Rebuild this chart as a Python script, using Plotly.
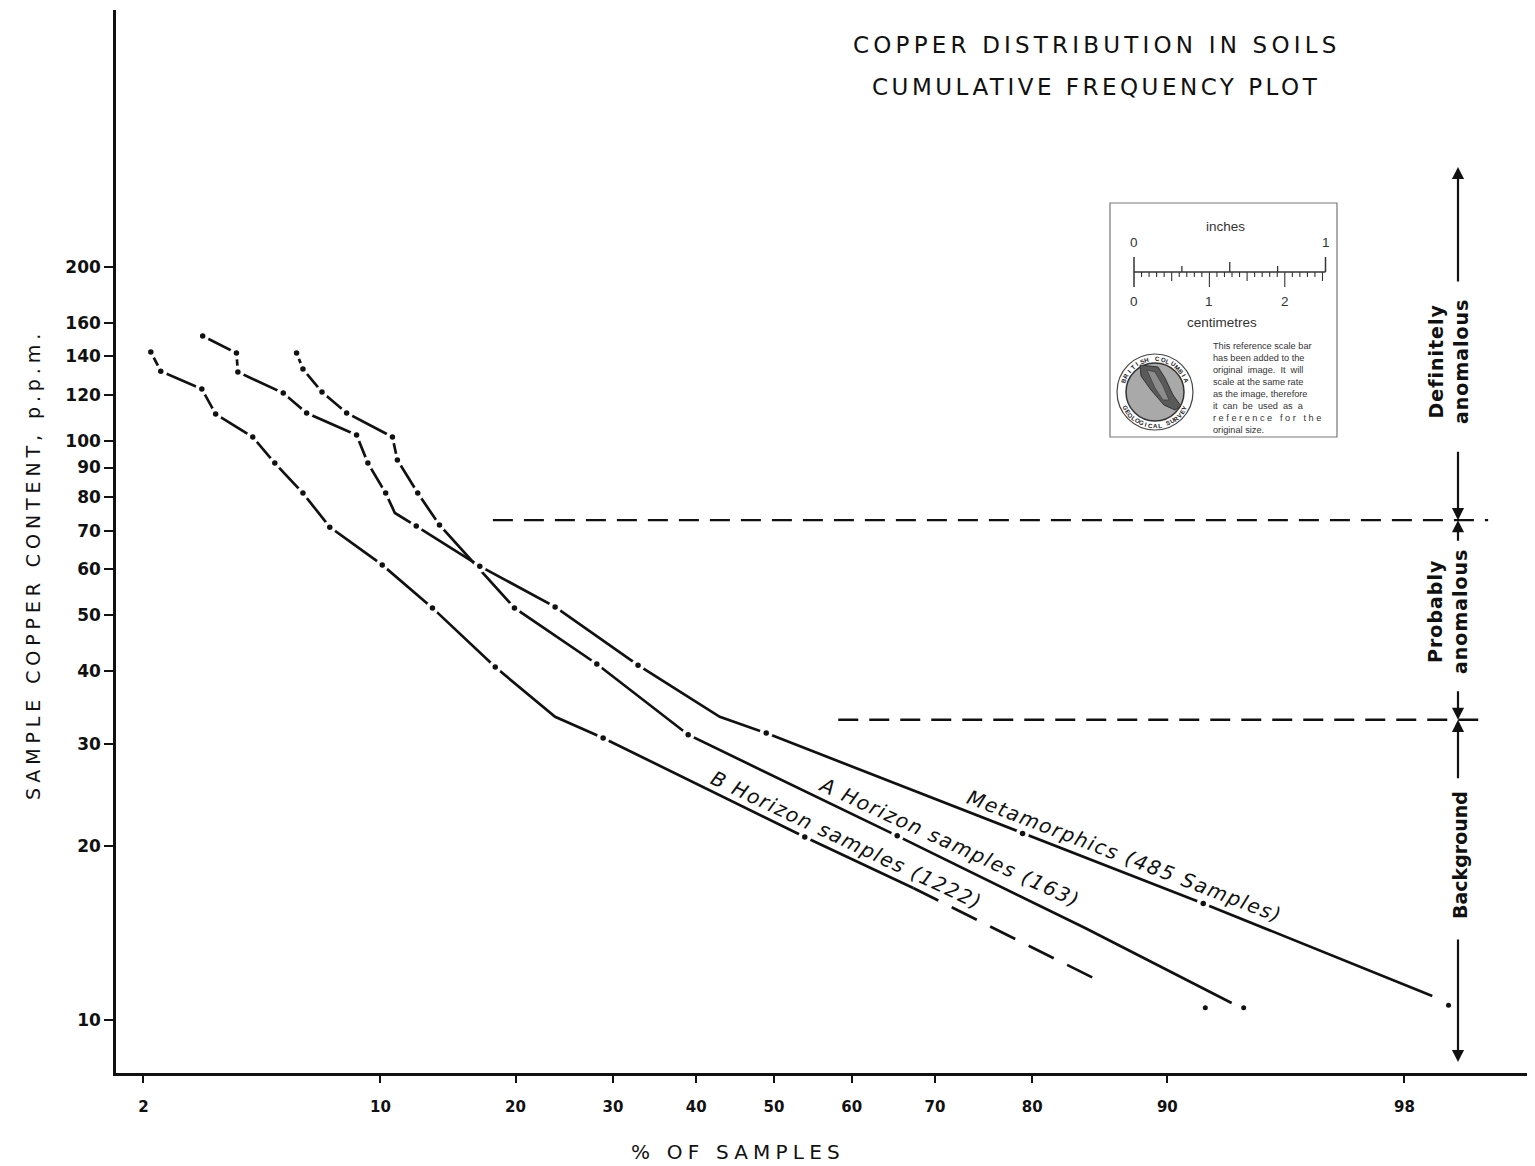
import math
from statistics import NormalDist
import plotly.graph_objects as go

# ------------------------------------------------------------------ data
X_TICKS_PCT = [2, 10, 20, 30, 40, 50, 60, 70, 80, 90, 98]
Y_TICKS_PPM = [10, 20, 30, 40, 50, 60, 70, 80, 90, 100, 120, 140, 160, 200]

# Metamorphics (485 Samples)
META_PCT = [3.14, 4.0, 4.04, 5.5, 6.4, 8.7, 9.3, 10.3, 10.85, 12.2, 16.9, 23.8, 32.9, 43.0, 49.0, 79.1, 91.9, 98.4]
META_PPM = [151.8, 141.9, 131.6, 121.0, 111.8, 102.4, 91.6, 81.3, 75.1, 71.3, 60.8, 51.7, 41.0, 33.4, 31.3, 21.0, 15.9, 11.0]
META_MARK = [1, 1, 1, 1, 1, 1, 1, 1, 0, 1, 1, 1, 1, 0, 1, 1, 1, 0]
META_EXTRA_PCT = [98.6]
META_EXTRA_PPM = [10.6]

# A Horizon samples (163)
AHOR_PCT = [6.0, 6.25, 7.05, 8.2, 10.7, 11.0, 12.3, 13.8, 19.9, 28.2, 39.0, 65.6, 84.5, 93.2]
AHOR_PPM = [141.9, 133.1, 121.5, 111.8, 101.6, 92.7, 81.3, 71.6, 51.5, 41.2, 31.1, 20.8, 14.4, 10.7]
AHOR_MARK = [1, 1, 1, 1, 1, 1, 1, 1, 1, 1, 1, 1, 0, 0]
AHOR_EXTRA_PCT = [92.0, 93.7]
AHOR_EXTRA_PPM = [10.5, 10.5]

# B Horizon samples (1222)
BHOR_PCT = [2.12, 2.29, 3.12, 3.45, 4.48, 5.2, 6.25, 7.4, 10.1, 13.3, 18.2, 23.8, 28.9, 54.0, 67.5, 85.8]
BHOR_PPM = [142.5, 132.0, 123.0, 111.3, 101.6, 91.6, 81.3, 71.0, 61.1, 51.5, 40.7, 33.4, 30.7, 20.7, 16.9, 11.6]
BHOR_MARK = [1, 1, 1, 1, 1, 1, 1, 1, 1, 1, 1, 0, 1, 1, 0, 0]
BHOR_DASHED_FROM = 14  # index where the extrapolated (dashed) part starts

# anomaly thresholds (ppm) and the span of their dashed lines (%)
THRESH_PPM = [73, 33]
THRESH_FROM_PCT = [18.0, 58.3]
THRESH_TO_PCT = [99.0, 99.0]

# ------------------------------------------------------------------ geometry
PAGE = 8                      # default body margin of the html page
W, H = 1527, 1158
ML, MR, MT, MB = 108, 0, 2, 93
X_RANGE = [-2.143, 2.479]        # probability axis (standard normal quantiles)
Y_RANGE = [0.9085, 2.7444]       # log10(ppm)
INK = "#111111"
FONT = "DejaVu Sans"

nd = NormalDist()


def z(p):
    return nd.inv_cdf(p / 100.0)


def fx(px):
    return (px - PAGE - ML) / (W - ML - MR)


def fy(py):
    return (H - MB - (py - PAGE)) / (H - MT - MB)


fig = go.Figure()

# threshold lines
for v, a, b in zip(THRESH_PPM, THRESH_FROM_PCT, THRESH_TO_PCT):
    fig.add_trace(go.Scatter(x=[z(a), z(b)], y=[v, v], mode="lines",
                             line=dict(color=INK, width=2.4, dash="20px,11px"),
                             hoverinfo="skip", showlegend=False))

series = [
    (META_PCT, META_PPM, META_MARK, None),
    (AHOR_PCT, AHOR_PPM, AHOR_MARK, None),
    (BHOR_PCT, BHOR_PPM, BHOR_MARK, BHOR_DASHED_FROM),
]

# curve lines
for pct, ppm, mark, dfrom in series:
    end = len(pct) if dfrom is None else dfrom + 1
    fig.add_trace(go.Scatter(x=[z(p) for p in pct[:end]], y=ppm[:end], mode="lines",
                             line=dict(color=INK, width=2.7),
                             hoverinfo="skip", showlegend=False))
    if dfrom is not None:
        fig.add_trace(go.Scatter(x=[z(p) for p in pct[dfrom:]], y=ppm[dfrom:], mode="lines",
                                 line=dict(color=INK, width=2.7, dash="28px,15px"),
                                 hoverinfo="skip", showlegend=False))

# gaps around the plotted points, then the points themselves
for color, size in (("white", 13), (INK, 5.5)):
    for pct, ppm, mark, dfrom in series:
        xs = [z(p) for p, m in zip(pct, mark) if m]
        ys = [v for v, m in zip(ppm, mark) if m]
        fig.add_trace(go.Scatter(x=xs, y=ys, mode="markers",
                                 marker=dict(size=size, color=color, line=dict(width=0)),
                                 hoverinfo="skip", showlegend=False))

for pct, ppm in ((META_EXTRA_PCT, META_EXTRA_PPM), (AHOR_EXTRA_PCT, AHOR_EXTRA_PPM)):
    fig.add_trace(go.Scatter(x=[z(p) for p in pct], y=ppm, mode="markers",
                             marker=dict(size=5, color=INK),
                             hoverinfo="skip", showlegend=False))

ann = []
shapes = []


def text(px, py, s, size, angle=0, family=FONT, color=INK, style="normal", ls=0, xanchor="center",
         yanchor="middle", align="center", weight="normal"):
    if ls:
        s = '<span style="letter-spacing:%spx">%s</span>' % (ls, s)
    ann.append(dict(x=fx(px), y=fy(py), xref="paper", yref="paper", text=s, showarrow=False,
                    textangle=angle, xanchor=xanchor, yanchor=yanchor, align=align,
                    font=dict(family=family, size=size, color=color, style=style, weight=weight)))


# titles
text(1097, 45, "COPPER DISTRIBUTION IN SOILS", 23, ls=4.2)
text(1096, 87, "CUMULATIVE FREQUENCY PLOT", 23, ls=3.5)
text(738, 1152, "% OF SAMPLES", 20, ls=5.2)
text(33, 565, "SAMPLE COPPER CONTENT, p.p.m.", 19, angle=-90, ls=4.9)

# curve labels
text(1124, 856, "Metamorphics (485 Samples)", 20, angle=21, style="italic", ls=1.6)
text(949, 842, "A Horizon samples (163)", 20, angle=24.6, style="italic", ls=1.6)
text(846, 840, "B Horizon samples (1222)", 20, angle=25.3, style="italic", ls=1.6)

# right-hand classification
text(1448, 362, "Definitely<br>anomalous", 19, angle=-90, weight="bold", ls=1)
text(1447, 612, "Probably<br>anomalous", 19, angle=-90, weight="bold", ls=1)
text(1460, 855, "Background", 19, angle=-90, weight="bold")


def arrow(tip_y, yref, ay):
    ann.append(dict(x=fx(1458), xref="paper", y=tip_y, yref=yref, ax=0, ay=ay, text="",
                    showarrow=True, arrowhead=2, arrowsize=1.1, arrowwidth=2.2, arrowcolor=INK,
                    standoff=0, startstandoff=0))


arrow(fy(167), "paper", 116)
arrow(math.log10(THRESH_PPM[0]), "y", -70)
arrow(math.log10(THRESH_PPM[0]), "y", 22)
arrow(math.log10(THRESH_PPM[1]), "y", -30)
arrow(math.log10(THRESH_PPM[1]), "y", 60)
arrow(fy(1062), "paper", -124)

# ---------------------------------------------------------------- scale-bar inset


def line_px(x0, y0, x1, y1, color="#333", width=1.3):
    shapes.append(dict(type="line", xref="paper", yref="paper", x0=fx(x0), y0=fy(y0),
                       x1=fx(x1), y1=fy(y1), line=dict(color=color, width=width)))


shapes.append(dict(type="rect", xref="paper", yref="paper", x0=fx(1110), y0=fy(203), x1=fx(1337),
                   y1=fy(437), line=dict(color="#777", width=1.2), fillcolor="white", layer="above"))
SB0, SB_IN = 1134, 191.5
line_px(SB0, 272, SB0 + SB_IN, 272, width=1.5)
line_px(SB0, 257, SB0, 287, width=1.5)
line_px(SB0 + SB_IN, 257, SB0 + SB_IN, 272, width=1.5)
for k in (1, 2, 3):
    xk = SB0 + k * SB_IN / 4
    line_px(xk, 262 if k == 2 else 266, xk, 272)
for k in range(1, 26):
    xk = SB0 + k * SB_IN / 25.4
    ln = 287 if k % 10 == 0 else (281 if k % 5 == 0 else 277)
    line_px(xk, 272, xk, ln, width=1.1)

SANS = "Liberation Sans"
text(1225, 226, "inches", 13.5, family=SANS, color="#333")
text(SB0, 242, "0", 13.5, family=SANS, color="#333")
text(SB0 + SB_IN, 242, "1", 13.5, family=SANS, color="#333")
for k in range(3):
    text(SB0 + k * SB_IN / 2.54, 302, str(k), 13.5, family=SANS, color="#333")
text(1222, 322, "centimetres", 13.5, family=SANS, color="#333")
text(1211, 339, "This reference scale bar<br>has been added to the<br>original  image.  It  will<br>"
     "scale at the same rate<br>as the image, therefore<br>it  can  be  used  as  a<br>"
     "r e f e r e n c e   f o r   t h e<br>original size.", 9.2, family=SANS, color="#333",
     xanchor="left", yanchor="top", align="left")

# logo
CX, CY = 1155, 392
shapes.append(dict(type="circle", xref="paper", yref="paper", x0=fx(CX - 38), x1=fx(CX + 38),
                   y0=fy(CY + 38), y1=fy(CY - 38), line=dict(color="#444", width=1.2),
                   fillcolor="white"))
shapes.append(dict(type="circle", xref="paper", yref="paper", x0=fx(CX - 29), x1=fx(CX + 29),
                   y0=fy(CY + 29), y1=fy(CY - 29), line=dict(color="#333", width=1.5),
                   fillcolor="#a9a9a9"))
MAP = [(-15, -27), (3, -25), (10, -14), (18, 3), (26, 14), (20, 18), (9, 13), (-4, -2), (-14, -16)]
path = "M " + " L ".join("%f,%f" % (fx(CX + dx), fy(CY + dy)) for dx, dy in MAP) + " Z"
shapes.append(dict(type="path", xref="paper", yref="paper", path=path,
                   line=dict(color="#333", width=1), fillcolor="#5a5a5a"))
MAP2 = [(-8, -22), (0, -20), (8, -6), (14, 8), (8, 8), (0, -4)]
path2 = "M " + " L ".join("%f,%f" % (fx(CX + dx), fy(CY + dy)) for dx, dy in MAP2) + " Z"
shapes.append(dict(type="path", xref="paper", yref="paper", path=path2,
                   line=dict(color="#333", width=0.6), fillcolor="#8c8c8c"))


def ring(word, a0, a1, top):
    n = len(word)
    for i, ch in enumerate(word):
        if ch == " ":
            continue
        th = math.radians(a0 + (a1 - a0) * i / (n - 1))
        px = CX + 33.5 * math.cos(th)
        py = CY - 33.5 * math.sin(th)
        ang = 90 - math.degrees(th) if top else 270 - math.degrees(th)
        text(px, py, ch, 6.2, angle=ang, family=SANS, color="#222", weight="bold")


ring("BRITISH COLUMBIA", 160, 20, True)
ring("GEOLOGICAL SURVEY", 208, 332, False)

# ------------------------------------------------------------------ layout
fig.update_layout(
    width=W, height=H,
    margin=dict(l=ML, r=MR, t=MT, b=MB),
    paper_bgcolor="white", plot_bgcolor="white",
    showlegend=False, hovermode=False,
    annotations=ann, shapes=shapes,
    xaxis=dict(range=X_RANGE, tickvals=[z(p) for p in X_TICKS_PCT],
               ticktext=[str(p) for p in X_TICKS_PCT], showgrid=False, zeroline=False,
               showline=True, linecolor=INK, linewidth=2.6, ticks="outside", ticklen=7,
               tickwidth=2, tickcolor=INK, ticklabelstandoff=11,
               tickfont=dict(family=FONT, size=15, color=INK, weight="bold")),
    yaxis=dict(type="log", range=Y_RANGE, tickvals=Y_TICKS_PPM,
               ticktext=[str(v) for v in Y_TICKS_PPM], showgrid=False, zeroline=False,
               showline=True, linecolor=INK, linewidth=2.6, ticks="outside", ticklen=9,
               tickwidth=2, tickcolor=INK,
               tickfont=dict(family=FONT, size=17, color=INK, weight="bold")),
)

fig.write_html("out.html", config={"displayModeBar": False})
